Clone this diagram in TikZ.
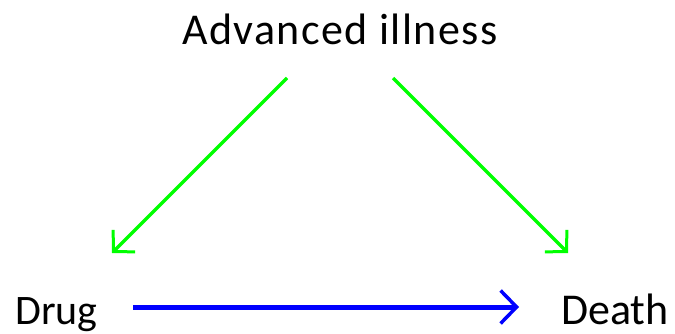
\documentclass[tikz,border=0pt]{standalone}
\usepackage{fontspec}
\setmainfont{Carlito}
\newfontfamily\wideA[LetterSpace=3.3]{Carlito}
\usetikzlibrary{arrows.meta}
\definecolor{arrgreen}{RGB}{0,255,0}
\definecolor{arrblue}{RGB}{0,0,255}
\tikzset{
  lbl/.style={inner sep=0pt, font=\fontsize{42bp}{50bp}\selectfont},
  biglbl/.style={inner sep=0pt, font=\fontsize{44bp}{52bp}\selectfont},
  greenarrow/.style={draw=arrgreen, line width=3.5bp, -{Straight Barb[length=15bp,width=31bp,line width=3bp]}},
  bluearrow/.style={draw=arrblue, line width=5bp, -{Straight Barb[length=16bp,width=33bp,line width=3.5bp]}}
}
\begin{document}
\begin{tikzpicture}[x=1bp,y=1bp]
\useasboundingbox (0,0) rectangle (675,333);
\node[biglbl, anchor=base] (ill) at (340,289) {\wideA Advanced illness};
\node[lbl, anchor=base west] (drug) at (15,9) {Drug};
\node[biglbl, anchor=base west] (death) at (561,9) {Death};
\coordinate (g1s) at (287,255);
\coordinate (g1e) at (112,80);
\coordinate (g2s) at (393,255);
\coordinate (g2e) at (568,80);
\coordinate (bs) at (133,26);
\coordinate (be) at (519,26);
\draw[greenarrow] (g1s) -- (g1e);
\draw[greenarrow] (g2s) -- (g2e);
\draw[bluearrow] (bs) -- (be);
\end{tikzpicture}
\end{document}
